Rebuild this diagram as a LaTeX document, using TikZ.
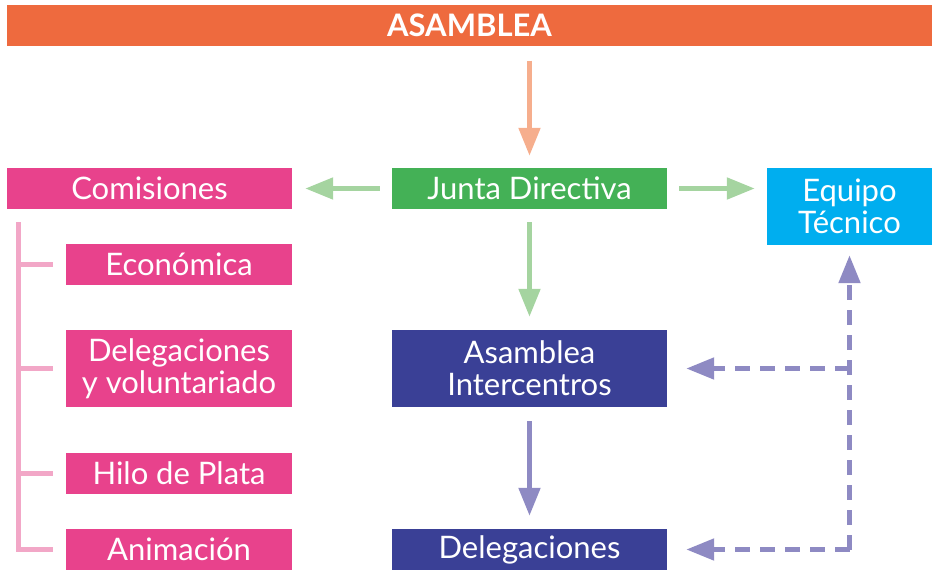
\documentclass[tikz,border=0pt]{standalone}
\usepackage{fontspec}
\setmainfont{Lato}
\usetikzlibrary{arrows.meta}
\definecolor{naranja}{HTML}{EE6A3E}
\definecolor{salmon}{HTML}{F6AE8D}
\definecolor{verde}{HTML}{44B156}
\definecolor{verdeclaro}{HTML}{A5D4A0}
\definecolor{rosa}{HTML}{E8428C}
\definecolor{rosaclaro}{HTML}{F2A7C7}
\definecolor{celeste}{HTML}{00AEEF}
\definecolor{azul}{HTML}{3A4096}
\definecolor{lila}{HTML}{8E8AC3}

\begin{document}
\begin{tikzpicture}[x=1pt,y=-1pt,
  caja/.style={fill=#1,text=white,inner sep=0pt,minimum height=41pt,align=center,font=\fontsize{31}{32}\selectfont},
  flecha/.style={draw=#1,line width=5pt,-{Triangle[length=28pt,width=21pt]}},
  discontinua/.style={draw=lila,line width=5pt,dash pattern=on 15pt off 10pt,-{Triangle[length=28pt,width=21pt]}},
  rama/.style={draw=rosaclaro,line width=5pt}]
    \useasboundingbox (0,0) rectangle (934,570);
    \node[caja=naranja,minimum width=925pt,font=\fontsize{31}{32}\selectfont\bfseries](asamblea) at (469.5,25){ASAMBLEA};
    \node[caja=verde,minimum width=275pt](junta) at (529.5,188.5){Junta Directiva};
    \node[caja=rosa,minimum width=285pt](comisiones) at (149.5,188.5){Comisiones};
    \node[caja=celeste,minimum width=165pt,minimum height=77pt](equipo) at (849.5,206.5){Equipo\\Técnico};
    \node[caja=azul,minimum width=275pt,minimum height=77pt](intercentros) at (529.5,368.5){Asamblea\\Intercentros};
    \node[caja=azul,minimum width=275pt](delegaciones) at (529.5,549.5){Delegaciones};
    \node[caja=rosa,minimum width=226pt](economica) at (179,264.5){Económica};
    \node[caja=rosa,minimum width=226pt,minimum height=77pt](voluntariado) at (179,368.5){Delegaciones\\y voluntariado};
    \node[caja=rosa,minimum width=226pt](hilo) at (179,473){Hilo de Plata};
    \node[caja=rosa,minimum width=226pt](animacion) at (179,549.5){Animación};
    \draw[flecha=salmon,shorten <=15pt,shorten >=12pt](junta.north |- asamblea.south)--(junta.north);
    \draw[flecha=verdeclaro,shorten <=12pt,shorten >=13pt](junta.west)--(comisiones.east);
    \draw[flecha=verdeclaro,shorten <=12pt,shorten >=12pt](junta.east)--(junta.east -| equipo.west);
    \draw[flecha=verdeclaro,shorten <=13pt,shorten >=13pt](junta.south)--(intercentros.north);
    \draw[flecha=lila,shorten <=14pt,shorten >=13pt](intercentros.south)--(delegaciones.north);
    \coordinate (esquina) at (equipo.south |- delegaciones.east);
    \coordinate (cruce) at (equipo.south |- intercentros.east);
    \draw[discontinua,shorten >=10pt](esquina)--(equipo.south);
    \draw[discontinua,shorten >=19pt](cruce)--(intercentros.east);
    \draw[discontinua,shorten >=19pt](esquina)--(delegaciones.east);
    \coordinate (tronco) at ([xshift=12pt,yshift=-13pt]comisiones.south west);
    \draw[rama](tronco)--(tronco |- animacion.west)--([xshift=-13pt]animacion.west);
    \foreach \n in {economica,voluntariado,hilo}
        \draw[rama](tronco |- \n.west)--([xshift=-13pt]\n.west);
\end{tikzpicture}
\end{document}
